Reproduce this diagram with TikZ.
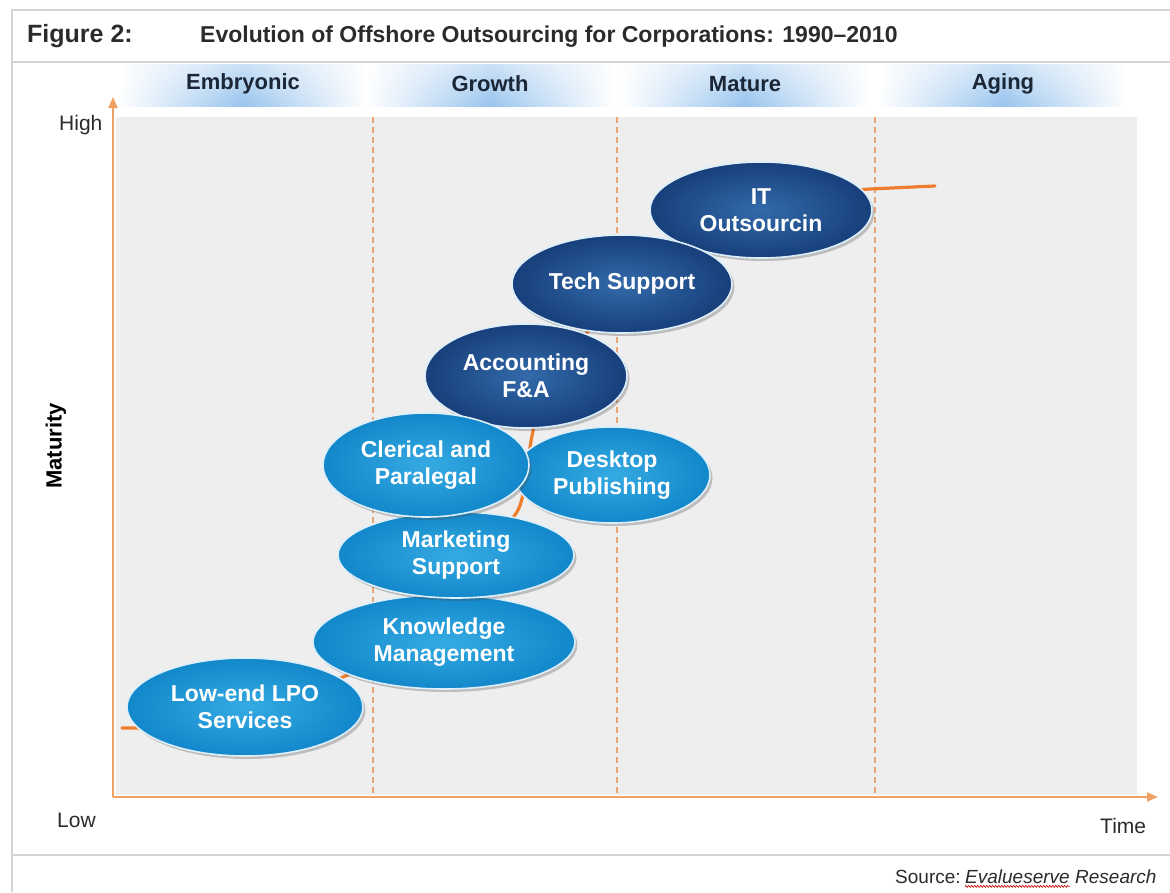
\documentclass[tikz,border=0pt]{standalone}
\usepackage{fontspec}
\setmainfont{Liberation Sans}
\usetikzlibrary{shapes.geometric,shadows,fadings,arrows.meta,decorations.pathmorphing}

\definecolor{framegray}{HTML}{D4D4D4}
\definecolor{plotgray}{HTML}{EEEEEE}
\definecolor{axisorange}{HTML}{F0A060}
\definecolor{dashorange}{HTML}{E9A477}
\definecolor{curveorange}{HTML}{EE7E2E}
\definecolor{bandblue}{HTML}{98C4EE}
\definecolor{lightin}{HTML}{35AAE2}
\definecolor{lightout}{HTML}{1288CB}
\definecolor{darkin}{HTML}{336AAA}
\definecolor{darkout}{HTML}{173F7B}
\definecolor{titleink}{HTML}{2B2B2B}
\definecolor{phaseink}{HTML}{1B2636}
\definecolor{edgeglow}{HTML}{DCEEFA}

\tikzset{
  titletext/.style={font=\bfseries\fontsize{23}{27}\selectfont, text=titleink, inner sep=0pt},
  phasetext/.style={font=\bfseries\fontsize{22}{26}\selectfont, text=phaseink, inner sep=0pt},
  axistext/.style={font=\fontsize{21}{25}\selectfont, text=titleink, inner sep=0pt},
  sourcetext/.style={font=\fontsize{19}{23}\selectfont, text=titleink, anchor=base west, inner sep=0pt},
  blob/.style={ellipse, inner sep=0pt, align=center, text=white,
    font=\bfseries\fontsize{23}{27}\selectfont,
    draw=edgeglow, line width=1.6pt,
    drop shadow={shadow xshift=2.5pt, shadow yshift=-3pt, opacity=0.3, fill=black!70}},
  lightblob/.style={blob, inner color=lightin, outer color=lightout},
  darkblob/.style={blob, inner color=darkin, outer color=darkout},
  phasedash/.style={dashorange, line width=1.8pt, dash pattern=on 6pt off 4pt},
  axisline/.style={axisorange, line width=2pt, -{Triangle[length=11pt,width=9pt]}},
}

\begin{document}
\begin{tikzpicture}[x=1pt,y=-1pt]
\useasboundingbox (0,0) rectangle (1170,892);
\fill[white] (0,0) rectangle (1170,892);

% outer frame
\draw[framegray, line width=1.6pt] (12,892) -- (12,10) -- (1170,10);
\draw[framegray, line width=1.6pt] (12,62) -- (1170,62);
\draw[framegray, line width=1.6pt] (12,855) -- (1170,855);

% heading
\node[titletext, font=\bfseries\fontsize{25}{29}\selectfont, anchor=base west] (fig) at (27,42) {Figure 2:};
\node[titletext, anchor=base west] (title) at (200,42) {Evolution of Offshore Outsourcing for Corporations: 1990–2010};

% phase bands
\foreach \cx/\lbl/\nm in {243/Embryonic/embryonic, 490/Growth/growth, 745/Mature/mature, 1003/Aging/aging}{
  \shade[left color=white, right color=white, middle color=bandblue]
    (\cx-124,64) rectangle (\cx+124,106);
  \fill[white, path fading=south, opacity=0.5] (\cx-124,64) rectangle (\cx+124,106);
  \node[phasetext] (\nm) at (\cx,84) {\lbl};
}

% plot area
\fill[plotgray] (116,117) rectangle (1137,795);

% phase boundaries
\foreach \px in {373,617,875}{
  \draw[phasedash] (\px,117) -- (\px,795);
}

% axes
\coordinate (origin) at (113,797);
\coordinate (ytop) at (113,97);
\coordinate (xend) at (1158,797);
\draw[axisline] (origin) -- (ytop);
\draw[axisline] (origin) -- (xend);

\node[axistext, anchor=west] (high) at (59,125) {High};
\node[axistext, anchor=west] (low) at (57,820) {Low};
\node[axistext, anchor=west] (time) at (1100,826) {Time};
\node[font=\bfseries\fontsize{22}{26}\selectfont, rotate=90, inner sep=0pt] (maturity) at (56,446) {Maturity};

% maturity curve running behind the service ellipses
\coordinate (curvestart) at (122,728);
\coordinate (curveend) at (935,186);
\draw[curveorange, line width=3.2pt, line cap=round]
  (curvestart) -- (160,728)
  plot[smooth, tension=0.5] coordinates {
    (160,728) (250,720) (343,677) (440,640) (470,560) (518,510) (532,436) (548,380) (640,282) (780,205) (870,189)}
  -- (curveend);

% service ellipses
\node[darkblob, minimum width=222pt, minimum height=96pt] (it) at (761,210) {IT\\Outsourcin};
\node[darkblob, minimum width=220pt, minimum height=98pt] (tech) at (622,284) {Tech Support};
\node[darkblob, minimum width=202pt, minimum height=104pt] (acct) at (526,376) {Accounting\\F\&A};
\node[lightblob, minimum width=196pt, minimum height=96pt] (dtp) at (612,475) {Desktop\\Publishing};
\node[lightblob, minimum width=236pt, minimum height=98pt] (lpo) at (245,707) {Low-end LPO\\Services};
\node[lightblob, minimum width=262pt, minimum height=94pt] (km) at (444,642) {Knowledge\\Management};
\node[lightblob, minimum width=236pt, minimum height=86pt] (mkt) at (456,555) {Marketing\\Support};
\node[lightblob, minimum width=206pt, minimum height=104pt] (cler) at (426,465) {Clerical and\\Paralegal};

% source line
\node[sourcetext] (src) at (895,883) {Source:};
\node[sourcetext, font=\itshape\fontsize{19}{23}\selectfont] (evs) at (965,883) {Evalueserve};
\node[sourcetext, font=\itshape\fontsize{19}{23}\selectfont] (res) at ([xshift=5pt]evs.base east) {Research};
\draw[red!80!black, line width=0.6pt, decorate, decoration={zigzag, amplitude=1pt, segment length=3pt}]
  ([yshift=-3pt]evs.south west) -- ([yshift=-3pt]evs.south east);
\end{tikzpicture}
\end{document}
